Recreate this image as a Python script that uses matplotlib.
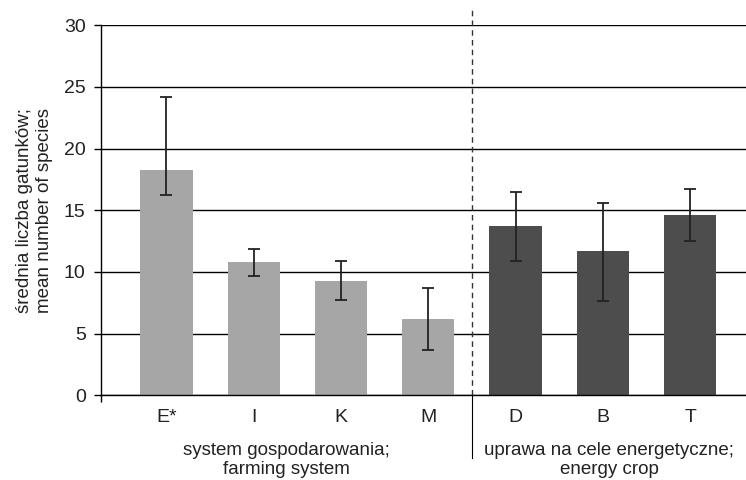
import numpy as np
import matplotlib
matplotlib.use('Agg')
import matplotlib.pyplot as plt
import matplotlib.transforms as mtransforms

# dane
kategorie = ['E*', 'I', 'K', 'M', 'D', 'B', 'T']
srednie = [18.3, 10.8, 9.3, 6.2, 13.7, 11.7, 14.6]
blad_gora = [24.2, 11.85, 10.9, 8.7, 16.45, 15.6, 16.75]
blad_dol = [16.2, 9.65, 7.7, 3.7, 10.9, 7.65, 12.55]
grupy = ['system gospodarowania;\nfarming system',
         'uprawa na cele energetyczne;\nenergy crop']
yticks = [0, 5, 10, 15, 20, 25, 30]

plt.rcParams['font.family'] = ['Liberation Sans', 'DejaVu Sans']
plt.rcParams['axes.linewidth'] = 1
waski = ['Liberation Sans Narrow', 'Liberation Sans']

fig = plt.figure(figsize=(7.46, 4.8), dpi=100)
ax = fig.add_axes([0.1354, 0.1765, 0.8646, 0.7708])

x = np.arange(len(kategorie))
kolory = ['#a6a6a6'] * 4 + ['#4d4d4d'] * 3
sr = np.array(srednie)
yerr = [sr - np.array(blad_dol), np.array(blad_gora) - sr]

ax.bar(x, srednie, width=0.6, color=kolory, zorder=2)
ax.errorbar(x, srednie, yerr=yerr, fmt='none', ecolor='#222222',
            elinewidth=1.3, capsize=4.5, capthick=1.3, zorder=3)

ax.set_xlim(-0.75, 6.64)
ax.set_ylim(0, 30)
ax.set_yticks(yticks)
ax.yaxis.grid(True, color='black', lw=1.0, zorder=0)
ax.set_axisbelow(True)
for s in ['top', 'right']:
    ax.spines[s].set_visible(False)

ax.set_xticks(x)
ax.set_xticklabels(kategorie, family=waski)
ax.set_xticks([-0.75], minor=True)
ax.tick_params(axis='x', which='major', length=0, pad=10, labelsize=14, labelcolor='#222222')
ax.tick_params(axis='x', which='minor', length=5, direction='out', width=1)
ax.tick_params(axis='y', length=5, width=1, pad=6, labelsize=14, labelcolor='#222222')

ax.set_ylabel('średnia liczba gatunków;\nmean number of species', fontsize=13.5,
              color='#222222', labelpad=8, linespacing=1.2)

# linia przerywana miedzy grupami
ax.plot([3.5, 3.5], [0, 31.25], ls=(0, (4, 3)), color='#333333', lw=1,
        clip_on=False, zorder=1)

trans = mtransforms.blended_transform_factory(ax.transData, ax.transAxes)
ax.plot([3.5, 3.5], [0, -0.17], color='black', lw=0.8, transform=trans,
        clip_on=False)
ax.text(1.375, -0.175, grupy[0], transform=trans, ha='center', va='center',
        fontsize=13.5, color='#222222', linespacing=1.1, family=waski)
ax.text(5.07, -0.175, grupy[1], transform=trans, ha='center', va='center',
        fontsize=13.5, color='#222222', linespacing=1.1, family=waski)

fig.savefig('out.png', dpi=100)
